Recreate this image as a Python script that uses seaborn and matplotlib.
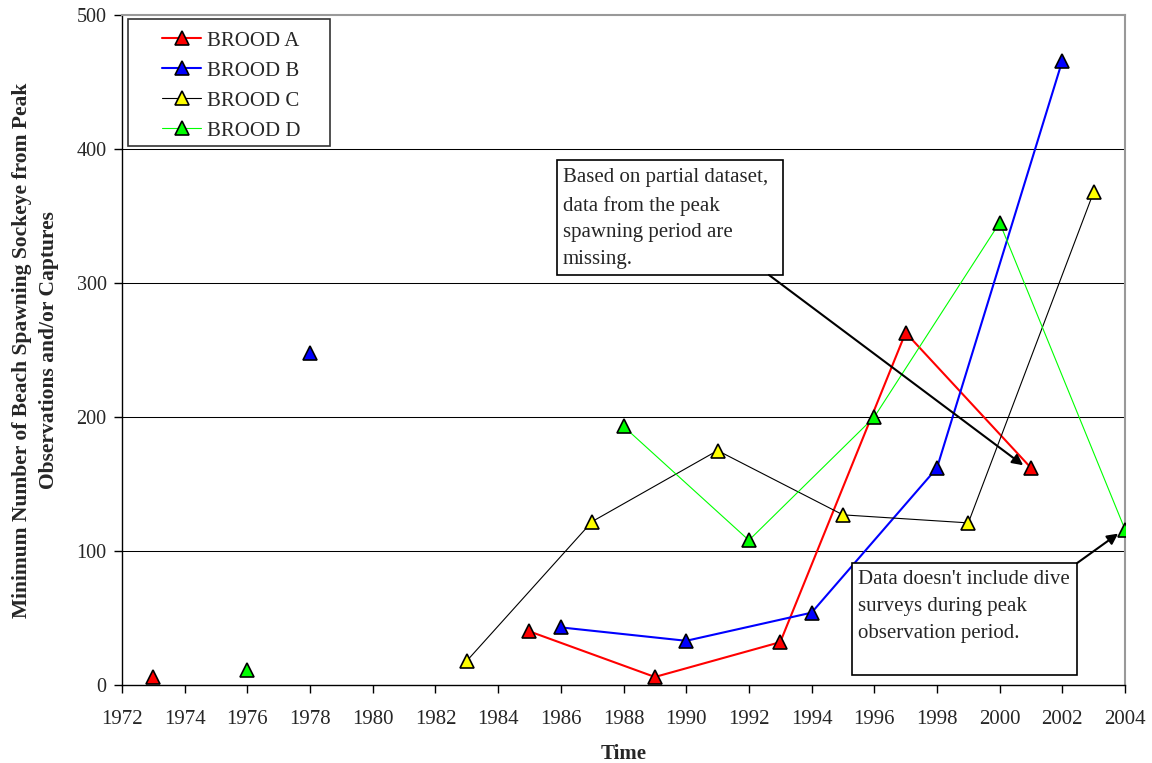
import numpy as np
import pandas as pd
import matplotlib
matplotlib.use("Agg")
import matplotlib.pyplot as plt
from matplotlib.lines import Line2D
from matplotlib.patches import Rectangle
import seaborn as sns

# ---- data ----
years_a = [1973, 1977, 1981, 1985, 1989, 1993, 1997, 2001]
brood_a = [6, np.nan, np.nan, 40, 6, 32, 263, 162]
years_b = [1978, 1982, 1986, 1990, 1994, 1998, 2002]
brood_b = [248, np.nan, 43, 33, 54, 162, 466]
years_c = [1983, 1987, 1991, 1995, 1999, 2003]
brood_c = [18, 122, 175, 127, 121, 368]
years_d = [1976, 1980, 1984, 1988, 1992, 1996, 2000, 2004]
brood_d = [11, np.nan, np.nan, 193, 108, 200, 345, 116]

labels = ["BROOD A", "BROOD B", "BROOD C", "BROOD D"]
line_colors = ["#FF0000", "#0000FF", "#000000", "#00FF00"]
face_colors = ["#FF0000", "#0000FF", "#FFFF00", "#00FF00"]
line_widths = [1.5, 1.5, 0.8, 0.8]

x_ticks = list(range(1972, 2005, 2))
y_ticks = [0, 100, 200, 300, 400, 500]

note1 = "Based on partial dataset,\ndata from the peak\nspawning period are\nmissing."
note2 = "Data doesn't include dive\nsurveys during peak\nobservation period."

# ---- style ----
sns.set_style("white")
plt.rcParams["font.family"] = ["Liberation Serif", "DejaVu Serif"]

fig = plt.figure(figsize=(11.52, 7.63), dpi=100)
ax = fig.add_axes([0.1059, 0.1022, 0.8707, 0.8781])

def segments(years, vals):
    seg, out, prev_nan = 0, [], False
    for y, v in zip(years, vals):
        if np.isnan(v):
            prev_nan = True
            continue
        if prev_nan:
            seg += 1
            prev_nan = False
        out.append((y, v, seg))
    return pd.DataFrame(out, columns=["year", "value", "seg"])

series = [(years_a, brood_a), (years_b, brood_b), (years_c, brood_c), (years_d, brood_d)]

# gridlines
for yv in y_ticks[1:-1]:
    ax.axhline(yv, color="black", lw=0.75, zorder=0)

for (yrs, vals), lc, fc, lw in zip(series, line_colors, face_colors, line_widths):
    df = segments(yrs, vals)
    sns.lineplot(data=df, x="year", y="value", units="seg", estimator=None,
                 color=lc, lw=lw, marker="^", markersize=10,
                 markerfacecolor=fc, markeredgecolor="black", markeredgewidth=1.2,
                 ax=ax, legend=False, zorder=3)

ax.set_xlim(1972, 2004)
ax.set_ylim(0, 500)
ax.set_xticks(x_ticks)
ax.set_yticks(y_ticks)
ax.tick_params(axis="both", which="major", direction="out", length=6, width=1,
               color="black", bottom=True, left=True)
ax.tick_params(axis="x", pad=12, labelsize=15)
ax.tick_params(axis="y", pad=5, labelsize=14.5)

for s in ["left", "bottom"]:
    ax.spines[s].set_color("black")
    ax.spines[s].set_linewidth(1.0)
for s in ["top", "right"]:
    ax.spines[s].set_color("#999999")
    ax.spines[s].set_linewidth(1.5)

ax.set_xlabel("Time", fontsize=15, fontweight="bold", labelpad=11)
ax.set_ylabel("Minimum Number of Beach Spawning Sockeye from Peak\nObservations and/or Captures",
              fontsize=15.5, fontweight="bold", labelpad=13, linespacing=1.46)

# legend (frame drawn separately)
ax.add_patch(Rectangle((0.006, 0.8045), 0.2014, 0.1895, transform=ax.transAxes,
                       facecolor="white", edgecolor="#333333", lw=1.2, zorder=4))
handles = [Line2D([0], [0], color=lc, lw=lw, marker="^", markersize=10,
                  markerfacecolor=fc, markeredgecolor="black", markeredgewidth=1.2)
           for lc, fc, lw in zip(line_colors, face_colors, line_widths)]
leg = ax.legend(handles, labels, loc="upper left", bbox_to_anchor=(0.0399, 0.976),
                borderaxespad=0, fontsize=15, frameon=False, labelspacing=0.5,
                handlelength=1.875, handletextpad=0.3, borderpad=0)
leg.set_zorder(5)

# annotation boxes
ax.add_patch(Rectangle((1985.88, 306), 1993.09 - 1985.88, 392 - 306, fill=True,
                       facecolor="white", edgecolor="black", lw=1.2, zorder=5))
ax.text(1986.07, 385.5, note1, fontsize=15, va="top", ha="left", linespacing=1.55, zorder=6)
ax.annotate("", xy=(2000.75, 164), xytext=(1992.64, 306),
            arrowprops=dict(arrowstyle="-|>", color="black", lw=1.5,
                            mutation_scale=16, shrinkA=0, shrinkB=0), zorder=6)

ax.add_patch(Rectangle((1995.29, 7.5), 2002.47 - 1995.29, 91 - 7.5, fill=True,
                       facecolor="white", edgecolor="black", lw=1.2, zorder=5))
ax.text(1995.48, 85.5, note2, fontsize=15, va="top", ha="left", linespacing=1.55, zorder=6)
ax.annotate("", xy=(2003.78, 113), xytext=(2002.47, 91),
            arrowprops=dict(arrowstyle="-|>", color="black", lw=1.5,
                            mutation_scale=16, shrinkA=0, shrinkB=0), zorder=6)

fig.savefig("out.png", dpi=100)
